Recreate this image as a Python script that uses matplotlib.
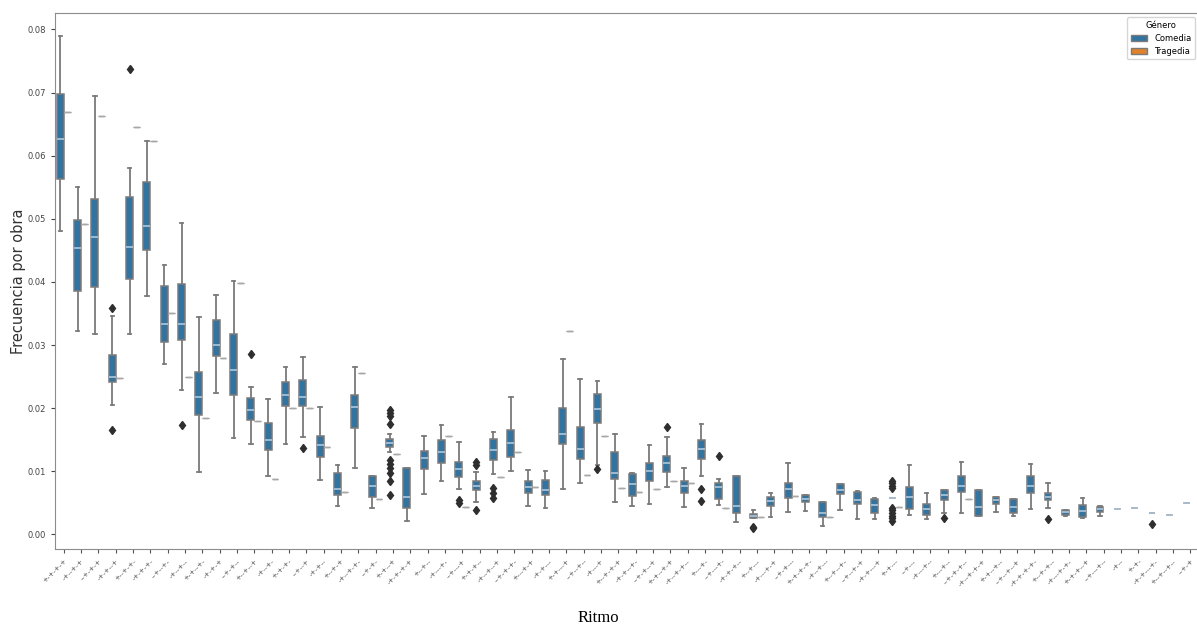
import matplotlib
matplotlib.use('Agg')
import matplotlib.pyplot as plt
from matplotlib.patches import Patch
import numpy as np

# rhythm patterns (x categories)
ritmos = ['+-+-+-+', '-+--+-+', '--+-+-+', '-+-+--+', '+--+-+-', '-+-+-+-',
          '--+--+-', '-+--+--', '+-+--+-', '-+-+-+', '--+-+--', '+--+--+',
          '-+--+-', '+-+-+-', '--+--+', '-+-+--', '+--+-+', '-+--+-+-',
          '--+-+-', '+-+--+', '-+-+-+-+', '+--+--', '-+---+-', '--+---+',
          '+-+-+--', '-+--+--+', '--+-+-+-', '+---+-+', '-+-+---', '+-+---+',
          '--+--+--', '-+---+', '+--+-+-+', '-+-+--+-', '--+-+--+', '+-+--+-+',
          '-+--+-+--', '+---+-', '--+---+-', '-+-+-+--', '+--+---', '-+---+-+',
          '--+-+---', '+-+-+-+-', '-+--+---', '+--+--+-', '--+--+-+', '-+-+---+',
          '+-+---', '--+---', '-+---+--', '+---+--', '--+-+-+--', '-+--+-+-+',
          '+-+--+--', '--+--+--+', '-+-+-+-+-', '+--+-+--', '-+---+-+-', '+-+-+--+',
          '--+---+--', '-+--', '+-+-', '-+-+---+-', '+--+--+--', '--+-+']

# Comedia: box statistics per rhythm
com_lo = [0.0480, 0.0322, 0.0318, 0.0205, 0.0318, 0.0378, 0.0270, 0.0229, 0.0099, 0.0224,
          0.0153, 0.0143, 0.0092, 0.0143, 0.0154, 0.0086, 0.0045, 0.0105, 0.0042, 0.0131,
          0.0022, 0.0064, 0.0084, 0.0072, 0.0052, 0.0096, 0.0100, 0.0045, 0.0042, 0.0072,
          0.0082, 0.0110, 0.0052, 0.0045, 0.0048, 0.0075, 0.0044, 0.0093, 0.0047, 0.0019,
          0.0026, 0.0027, 0.0036, 0.0037, 0.0013, 0.0039, 0.0024, 0.0024, 0.0057, 0.0031,
          0.0024, 0.0034, 0.0034, 0.0030, 0.0036, 0.0029, 0.0040, 0.0042, 0.0030, 0.0026,
          0.0029, 0.0041, 0.0042, 0.0034, 0.0031, 0.0050]
com_q1 = [0.0563, 0.0386, 0.0392, 0.0242, 0.0405, 0.0451, 0.0305, 0.0308, 0.0190, 0.0282,
          0.0221, 0.0181, 0.0134, 0.0203, 0.0204, 0.0123, 0.0063, 0.0168, 0.0060, 0.0139,
          0.0042, 0.0104, 0.0113, 0.0091, 0.0071, 0.0118, 0.0122, 0.0065, 0.0063, 0.0143,
          0.0120, 0.0176, 0.0088, 0.0061, 0.0084, 0.0099, 0.0065, 0.0119, 0.0056, 0.0034,
          0.0026, 0.0045, 0.0057, 0.0051, 0.0027, 0.0064, 0.0048, 0.0034, 0.0057, 0.0041,
          0.0031, 0.0055, 0.0068, 0.0030, 0.0048, 0.0034, 0.0065, 0.0054, 0.0031, 0.0028,
          0.0036, 0.0041, 0.0042, 0.0034, 0.0031, 0.0050]
com_med = [0.0627, 0.0453, 0.0471, 0.0250, 0.0456, 0.0489, 0.0334, 0.0334, 0.0218, 0.0300,
           0.0260, 0.0197, 0.0150, 0.0221, 0.0218, 0.0141, 0.0072, 0.0202, 0.0077, 0.0145,
           0.0060, 0.0121, 0.0131, 0.0103, 0.0077, 0.0134, 0.0145, 0.0075, 0.0071, 0.0159,
           0.0136, 0.0198, 0.0097, 0.0080, 0.0100, 0.0114, 0.0076, 0.0135, 0.0075, 0.0045,
           0.0030, 0.0053, 0.0072, 0.0056, 0.0034, 0.0071, 0.0055, 0.0047, 0.0057, 0.0060,
           0.0041, 0.0063, 0.0077, 0.0043, 0.0055, 0.0044, 0.0076, 0.0060, 0.0035, 0.0037,
           0.0040, 0.0041, 0.0042, 0.0034, 0.0031, 0.0050]
com_q3 = [0.0697, 0.0498, 0.0532, 0.0284, 0.0535, 0.0558, 0.0393, 0.0397, 0.0258, 0.0339,
          0.0317, 0.0216, 0.0176, 0.0242, 0.0244, 0.0156, 0.0097, 0.0221, 0.0093, 0.0151,
          0.0105, 0.0132, 0.0149, 0.0115, 0.0085, 0.0151, 0.0165, 0.0084, 0.0087, 0.0201,
          0.0171, 0.0222, 0.0130, 0.0096, 0.0114, 0.0124, 0.0084, 0.0150, 0.0081, 0.0093,
          0.0032, 0.0060, 0.0082, 0.0062, 0.0051, 0.0080, 0.0068, 0.0056, 0.0057, 0.0075,
          0.0048, 0.0071, 0.0092, 0.0070, 0.0059, 0.0056, 0.0092, 0.0065, 0.0039, 0.0047,
          0.0043, 0.0041, 0.0042, 0.0034, 0.0031, 0.0050]
com_hi = [0.0790, 0.0551, 0.0695, 0.0346, 0.0580, 0.0624, 0.0427, 0.0493, 0.0345, 0.0380,
          0.0401, 0.0233, 0.0215, 0.0266, 0.0281, 0.0202, 0.0110, 0.0266, 0.0093, 0.0159,
          0.0105, 0.0156, 0.0174, 0.0146, 0.0099, 0.0163, 0.0217, 0.0102, 0.0100, 0.0278,
          0.0246, 0.0243, 0.0159, 0.0098, 0.0141, 0.0155, 0.0105, 0.0175, 0.0088, 0.0093,
          0.0038, 0.0066, 0.0113, 0.0062, 0.0051, 0.0080, 0.0069, 0.0057, 0.0057, 0.0110,
          0.0066, 0.0071, 0.0115, 0.0070, 0.0059, 0.0056, 0.0112, 0.0082, 0.0039, 0.0057,
          0.0045, 0.0041, 0.0042, 0.0034, 0.0031, 0.0050]
com_fliers = {3: [0.0358, 0.0165], 4: [0.0738], 7: [0.0174], 11: [0.0286], 14: [0.0137],
              19: [0.0197, 0.0192, 0.0187, 0.0175, 0.0118, 0.0111, 0.0105, 0.0098, 0.0085, 0.0063],
              23: [0.0054, 0.0050], 24: [0.0115, 0.0110, 0.0039], 25: [0.0073, 0.0065, 0.0057],
              31: [0.0104], 35: [0.0170], 37: [0.0072, 0.0053], 38: [0.0125], 40: [0.0012, 0.0010],
              48: [0.0085, 0.0081, 0.0077, 0.0073, 0.0042, 0.0038, 0.0034, 0.0030, 0.0026, 0.0022],
              51: [0.0026], 57: [0.0024], 63: [0.0016]}

# Tragedia: one play per rhythm (nan = none)
nan = np.nan
tragedia = [0.0669, 0.0492, 0.0663, 0.0248, 0.0645, 0.0624, 0.0351, 0.0249, 0.0185, 0.0279,
            0.0398, 0.0179, 0.0088, 0.0200, 0.0200, 0.0139, 0.0068, 0.0255, 0.0056, 0.0127,
            nan, nan, 0.0156, 0.0044, nan, 0.0091, 0.0130, 0.0075, nan, 0.0323,
            0.0094, 0.0156, 0.0074, 0.0068, 0.0072, 0.0085, 0.0081, nan, 0.0042, nan,
            0.0028, nan, 0.0061, nan, 0.0028, nan, nan, nan, 0.0043, nan,
            nan, nan, 0.0056, nan, nan, nan, nan, nan, nan, nan,
            nan, nan, nan, nan, nan, nan]

BLUE = '#3274a1'
ORANGE = '#e1812c'
GRAY = '#7a7a7a'

fig = plt.figure(figsize=(11.97, 6.41), dpi=100)
ax = fig.add_axes([55 / 1197, 92 / 641, 1143.9 / 1197, 536 / 641])

n = len(ritmos)
x = np.arange(n)

stats_c = []
for i in range(n):
    stats_c.append(dict(whislo=com_lo[i], q1=com_q1[i], med=com_med[i], q3=com_q3[i],
                        whishi=com_hi[i], fliers=com_fliers.get(i, [])))
stats_t = []
pos_t = []
for i in range(n):
    v = tragedia[i]
    if not np.isnan(v):
        stats_t.append(dict(whislo=v, q1=v, med=v, q3=v, whishi=v, fliers=[]))
        pos_t.append(i + 0.2)

ax.bxp(stats_c, positions=x - 0.2, widths=0.39, patch_artist=True, manage_ticks=False,
       boxprops=dict(facecolor=BLUE, edgecolor=GRAY, linewidth=1.1),
       whiskerprops=dict(color=GRAY, linewidth=1.3),
       capprops=dict(color=GRAY, linewidth=1.3),
       medianprops=dict(color='#b9cde0', linewidth=1.1),
       flierprops=dict(marker='d', markerfacecolor='#2e2e2e', markeredgecolor='#2e2e2e',
                       markersize=4.5))
ax.bxp(stats_t, positions=pos_t, widths=0.39, patch_artist=True, manage_ticks=False,
       boxprops=dict(facecolor=ORANGE, edgecolor='#a8a8a8', linewidth=0.9),
       whiskerprops=dict(color='#a8a8a8', linewidth=0.9),
       capprops=dict(color='#a8a8a8', linewidth=0.9),
       medianprops=dict(color='#a8a8a8', linewidth=0.9))

ax.set_xlim(-0.5, n - 0.5)
ax.set_ylim(-0.0023, 0.0826)
ax.set_yticks(np.arange(0, 0.081, 0.01))
ax.set_yticklabels(['%.2f' % t for t in np.arange(0, 0.081, 0.01)])
ax.set_xticks(x)
ax.set_xticklabels(ritmos, rotation=45, ha='right', rotation_mode='anchor', fontsize=5)
ax.tick_params(axis='y', labelsize=6, colors='#444444', length=3)
ax.tick_params(axis='x', colors='#555555', length=3)
for s in ax.spines.values():
    s.set_color('#8c8c8c')

ax.set_ylabel('Frecuencia por obra', fontsize=10.5, color='#333333', labelpad=1)
fig.text(0.5, 0.036, 'Ritmo', fontsize=12, family='Liberation Serif', ha='center', va='center')

handles = [Patch(facecolor=BLUE, edgecolor=GRAY, label='Comedia'),
           Patch(facecolor=ORANGE, edgecolor=GRAY, label='Tragedia')]
ax.legend(handles=handles, title='Género', loc='upper right', fontsize=6, title_fontsize=6)

plt.savefig('out.png', dpi=100)
